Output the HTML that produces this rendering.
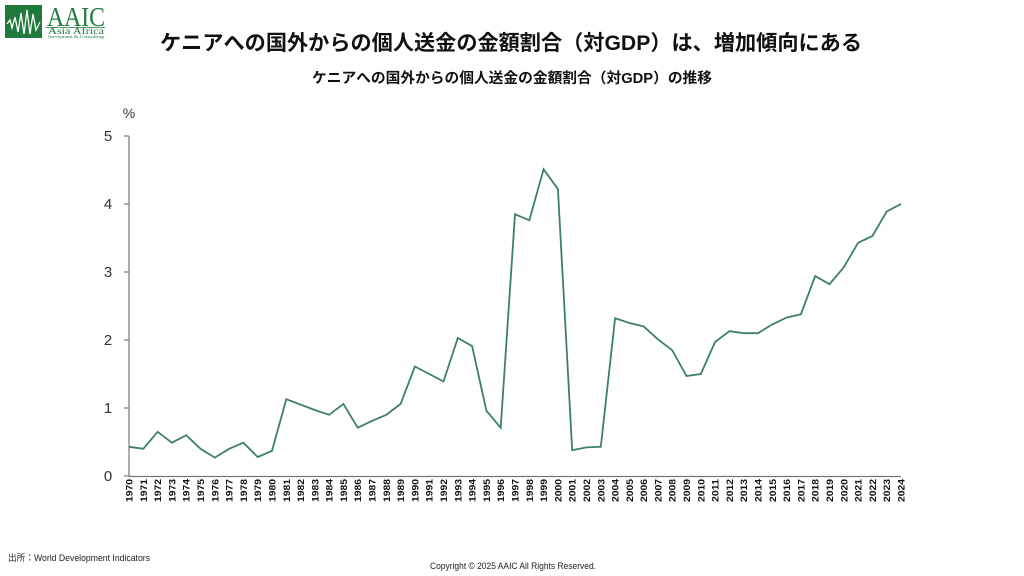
<!DOCTYPE html>
<html>
<head>
<meta charset="utf-8">
<style>
html,body{margin:0;padding:0;background:#fff;}
svg{display:block;}
</style>
</head>
<body>
<svg width="1024" height="576" viewBox="0 0 1024 576" xmlns="http://www.w3.org/2000/svg">
<rect width="1024" height="576" fill="#fff"/>
<!-- Logo -->
<rect x="5" y="5" width="37" height="33" fill="#1f7a3c"/>
<polyline points="7,24 10,20 12,28 15,17 18,32 21,13 24,34 27,10 30,34 33,14 36,30 40,22" fill="none" stroke="#fff" stroke-width="1.3"/>
<text x="47" y="26" font-family="Liberation Serif, serif" font-size="27" fill="#1f7a3c" textLength="58" lengthAdjust="spacingAndGlyphs">AAIC</text>
<line x1="46" y1="27.5" x2="105" y2="27.5" stroke="#1f7a3c" stroke-width="0.8"/>
<text x="48" y="34" font-family="Liberation Serif, serif" font-size="9" fill="#1f7a3c" textLength="56" lengthAdjust="spacingAndGlyphs">Asia Africa</text>
<text x="48" y="38" font-family="Liberation Serif, serif" font-size="4" fill="#1f7a3c" textLength="56" lengthAdjust="spacingAndGlyphs">Investment &amp; Consulting</text>

<!-- Titles -->
<text x="511" y="50" text-anchor="middle" font-family="Liberation Sans, Noto Sans CJK JP, sans-serif" font-size="21" font-weight="bold" fill="#111" textLength="702" lengthAdjust="spacingAndGlyphs">ケニアへの国外からの個人送金の金額割合（対GDP）は、増加傾向にある</text>
<text x="512" y="83" text-anchor="middle" font-family="Liberation Sans, Noto Sans CJK JP, sans-serif" font-size="14.5" font-weight="bold" fill="#111" textLength="400" lengthAdjust="spacingAndGlyphs">ケニアへの国外からの個人送金の金額割合（対GDP）の推移</text>

<!-- Y axis -->
<text x="129" y="118" text-anchor="middle" font-family="Liberation Sans, sans-serif" font-size="14" fill="#333">%</text>
<line x1="129" y1="136" x2="129" y2="476" stroke="#777" stroke-width="1.2"/>
<g stroke="#777" stroke-width="1.2">
<line x1="124" y1="136" x2="129" y2="136"/>
<line x1="124" y1="204" x2="129" y2="204"/>
<line x1="124" y1="272" x2="129" y2="272"/>
<line x1="124" y1="340" x2="129" y2="340"/>
<line x1="124" y1="408" x2="129" y2="408"/>
<line x1="124" y1="476" x2="129" y2="476"/>
</g>
<g font-family="Liberation Sans, sans-serif" font-size="15" fill="#333" text-anchor="middle">
<text x="108" y="141">5</text>
<text x="108" y="209">4</text>
<text x="108" y="277">3</text>
<text x="108" y="345">2</text>
<text x="108" y="413">1</text>
<text x="108" y="481">0</text>
</g>
<!-- X axis -->
<line x1="129" y1="476.5" x2="901" y2="476.5" stroke="#777" stroke-width="1.2"/>
<g font-family="Liberation Sans, sans-serif" font-size="9.5" font-weight="bold" fill="#111">
<text transform="translate(132.5,502) rotate(-90)" textLength="23" lengthAdjust="spacingAndGlyphs">1970</text>
<text transform="translate(146.8,502) rotate(-90)" textLength="23" lengthAdjust="spacingAndGlyphs">1971</text>
<text transform="translate(161.1,502) rotate(-90)" textLength="23" lengthAdjust="spacingAndGlyphs">1972</text>
<text transform="translate(175.4,502) rotate(-90)" textLength="23" lengthAdjust="spacingAndGlyphs">1973</text>
<text transform="translate(189.7,502) rotate(-90)" textLength="23" lengthAdjust="spacingAndGlyphs">1974</text>
<text transform="translate(204.0,502) rotate(-90)" textLength="23" lengthAdjust="spacingAndGlyphs">1975</text>
<text transform="translate(218.3,502) rotate(-90)" textLength="23" lengthAdjust="spacingAndGlyphs">1976</text>
<text transform="translate(232.6,502) rotate(-90)" textLength="23" lengthAdjust="spacingAndGlyphs">1977</text>
<text transform="translate(246.9,502) rotate(-90)" textLength="23" lengthAdjust="spacingAndGlyphs">1978</text>
<text transform="translate(261.2,502) rotate(-90)" textLength="23" lengthAdjust="spacingAndGlyphs">1979</text>
<text transform="translate(275.5,502) rotate(-90)" textLength="23" lengthAdjust="spacingAndGlyphs">1980</text>
<text transform="translate(289.8,502) rotate(-90)" textLength="23" lengthAdjust="spacingAndGlyphs">1981</text>
<text transform="translate(304.1,502) rotate(-90)" textLength="23" lengthAdjust="spacingAndGlyphs">1982</text>
<text transform="translate(318.3,502) rotate(-90)" textLength="23" lengthAdjust="spacingAndGlyphs">1983</text>
<text transform="translate(332.6,502) rotate(-90)" textLength="23" lengthAdjust="spacingAndGlyphs">1984</text>
<text transform="translate(346.9,502) rotate(-90)" textLength="23" lengthAdjust="spacingAndGlyphs">1985</text>
<text transform="translate(361.2,502) rotate(-90)" textLength="23" lengthAdjust="spacingAndGlyphs">1986</text>
<text transform="translate(375.5,502) rotate(-90)" textLength="23" lengthAdjust="spacingAndGlyphs">1987</text>
<text transform="translate(389.8,502) rotate(-90)" textLength="23" lengthAdjust="spacingAndGlyphs">1988</text>
<text transform="translate(404.1,502) rotate(-90)" textLength="23" lengthAdjust="spacingAndGlyphs">1989</text>
<text transform="translate(418.4,502) rotate(-90)" textLength="23" lengthAdjust="spacingAndGlyphs">1990</text>
<text transform="translate(432.7,502) rotate(-90)" textLength="23" lengthAdjust="spacingAndGlyphs">1991</text>
<text transform="translate(447.0,502) rotate(-90)" textLength="23" lengthAdjust="spacingAndGlyphs">1992</text>
<text transform="translate(461.3,502) rotate(-90)" textLength="23" lengthAdjust="spacingAndGlyphs">1993</text>
<text transform="translate(475.6,502) rotate(-90)" textLength="23" lengthAdjust="spacingAndGlyphs">1994</text>
<text transform="translate(489.9,502) rotate(-90)" textLength="23" lengthAdjust="spacingAndGlyphs">1995</text>
<text transform="translate(504.2,502) rotate(-90)" textLength="23" lengthAdjust="spacingAndGlyphs">1996</text>
<text transform="translate(518.5,502) rotate(-90)" textLength="23" lengthAdjust="spacingAndGlyphs">1997</text>
<text transform="translate(532.8,502) rotate(-90)" textLength="23" lengthAdjust="spacingAndGlyphs">1998</text>
<text transform="translate(547.1,502) rotate(-90)" textLength="23" lengthAdjust="spacingAndGlyphs">1999</text>
<text transform="translate(561.4,502) rotate(-90)" textLength="23" lengthAdjust="spacingAndGlyphs">2000</text>
<text transform="translate(575.7,502) rotate(-90)" textLength="23" lengthAdjust="spacingAndGlyphs">2001</text>
<text transform="translate(590.0,502) rotate(-90)" textLength="23" lengthAdjust="spacingAndGlyphs">2002</text>
<text transform="translate(604.3,502) rotate(-90)" textLength="23" lengthAdjust="spacingAndGlyphs">2003</text>
<text transform="translate(618.6,502) rotate(-90)" textLength="23" lengthAdjust="spacingAndGlyphs">2004</text>
<text transform="translate(632.9,502) rotate(-90)" textLength="23" lengthAdjust="spacingAndGlyphs">2005</text>
<text transform="translate(647.2,502) rotate(-90)" textLength="23" lengthAdjust="spacingAndGlyphs">2006</text>
<text transform="translate(661.4,502) rotate(-90)" textLength="23" lengthAdjust="spacingAndGlyphs">2007</text>
<text transform="translate(675.7,502) rotate(-90)" textLength="23" lengthAdjust="spacingAndGlyphs">2008</text>
<text transform="translate(690.0,502) rotate(-90)" textLength="23" lengthAdjust="spacingAndGlyphs">2009</text>
<text transform="translate(704.3,502) rotate(-90)" textLength="23" lengthAdjust="spacingAndGlyphs">2010</text>
<text transform="translate(718.6,502) rotate(-90)" textLength="23" lengthAdjust="spacingAndGlyphs">2011</text>
<text transform="translate(732.9,502) rotate(-90)" textLength="23" lengthAdjust="spacingAndGlyphs">2012</text>
<text transform="translate(747.2,502) rotate(-90)" textLength="23" lengthAdjust="spacingAndGlyphs">2013</text>
<text transform="translate(761.5,502) rotate(-90)" textLength="23" lengthAdjust="spacingAndGlyphs">2014</text>
<text transform="translate(775.8,502) rotate(-90)" textLength="23" lengthAdjust="spacingAndGlyphs">2015</text>
<text transform="translate(790.1,502) rotate(-90)" textLength="23" lengthAdjust="spacingAndGlyphs">2016</text>
<text transform="translate(804.4,502) rotate(-90)" textLength="23" lengthAdjust="spacingAndGlyphs">2017</text>
<text transform="translate(818.7,502) rotate(-90)" textLength="23" lengthAdjust="spacingAndGlyphs">2018</text>
<text transform="translate(833.0,502) rotate(-90)" textLength="23" lengthAdjust="spacingAndGlyphs">2019</text>
<text transform="translate(847.3,502) rotate(-90)" textLength="23" lengthAdjust="spacingAndGlyphs">2020</text>
<text transform="translate(861.6,502) rotate(-90)" textLength="23" lengthAdjust="spacingAndGlyphs">2021</text>
<text transform="translate(875.9,502) rotate(-90)" textLength="23" lengthAdjust="spacingAndGlyphs">2022</text>
<text transform="translate(890.2,502) rotate(-90)" textLength="23" lengthAdjust="spacingAndGlyphs">2023</text>
<text transform="translate(904.5,502) rotate(-90)" textLength="23" lengthAdjust="spacingAndGlyphs">2024</text>
</g>

<!-- Series -->
<polyline fill="none" stroke="#3d8164" stroke-width="1.8" stroke-linejoin="miter" points="
129.0,446.8 143.3,448.8 157.6,431.8 171.9,442.7 186.2,435.2 200.5,448.8 214.8,457.6 229.1,448.8 243.4,442.7 257.7,457.0
272.0,450.8 286.3,399.2 300.6,404.6 314.8,410.0 329.1,414.8 343.4,403.9 357.7,427.7 372.0,420.9 386.3,414.8 400.6,403.9
414.9,366.5 429.2,374.0 443.5,381.5 457.8,338.0 472.1,346.1 486.4,410.7 500.7,427.7 515.0,214.2 529.3,220.3 543.6,169.3
557.9,189.0 572.2,450.2 586.5,447.4 600.8,446.8 615.1,318.2 629.4,323.0 643.7,326.4 657.9,339.3 672.2,350.2 686.5,376.0
700.8,374.0 715.1,342.0 729.4,331.2 743.7,333.2 758.0,333.2 772.3,324.4 786.6,317.6 800.9,314.2 815.2,276.1 829.5,284.2
843.8,267.2 858.1,242.8 872.4,236.0 886.7,211.5 901.0,204.0"/>

<!-- Footer -->
<text x="8" y="561" font-family="Liberation Sans, Noto Sans CJK JP, sans-serif" font-size="9" fill="#222" textLength="142" lengthAdjust="spacingAndGlyphs">出所：World Development Indicators</text>
<text x="430" y="569" font-family="Liberation Sans, sans-serif" font-size="9" fill="#222" textLength="166" lengthAdjust="spacingAndGlyphs">Copyright © 2025 AAIC All Rights Reserved.</text>
</svg>
</body>
</html>
